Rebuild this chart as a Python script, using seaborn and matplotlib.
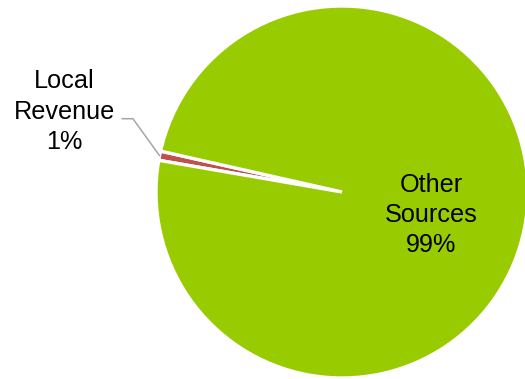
import numpy as np
import matplotlib
matplotlib.use("Agg")
import matplotlib.pyplot as plt
import seaborn as sns

categories = ["Local\nRevenue", "Other\nSources"]
values = [0.8, 99.2]
pct_labels = ["1%", "99%"]
colors = ["#C0504D", "#99CC00"]

sns.set_theme(style="white")
plt.rcParams['font.family'] = ['Liberation Sans', 'DejaVu Sans']

W, H = 525, 379
fig = plt.figure(figsize=(W / 100, H / 100), dpi=100)
cx, cy, R = 342, 187, 186
ax = fig.add_axes([(cx - R) / W, (cy - R) / H, 2 * R / W, 2 * R / H])

start = 167.3
wedges, _ = ax.pie(values, colors=colors, startangle=start, counterclock=True,
                   radius=1.0, wedgeprops=dict(edgecolor="white", linewidth=2.4))
ax.set_xlim(-1, 1)
ax.set_ylim(-1, 1)
ax.set_aspect("equal")
ax.axis("off")

# Local revenue label with leader line
w = wedges[0]
mid = np.deg2rad((w.theta1 + w.theta2) / 2)
p0 = (np.cos(mid) * 1.0, np.sin(mid) * 1.0)
elbow = (-1.124, 0.394)
end = (-1.183, 0.394)
ax.plot([p0[0], elbow[0], end[0]], [p0[1], elbow[1], end[1]], color="#A6A6A6",
        lw=1.1, clip_on=False)
ax.text(-1.491, 0.432, f"{categories[0]}\n{pct_labels[0]}", ha="center", va="center",
        fontsize=18.2, linespacing=1.36, color="black")

# Other sources label
ax.text(0.481, -0.124, f"{categories[1]}\n{pct_labels[1]}", ha="center", va="center",
        fontsize=18.2, linespacing=1.32, color="black")

fig.savefig("out.png", dpi=100)
